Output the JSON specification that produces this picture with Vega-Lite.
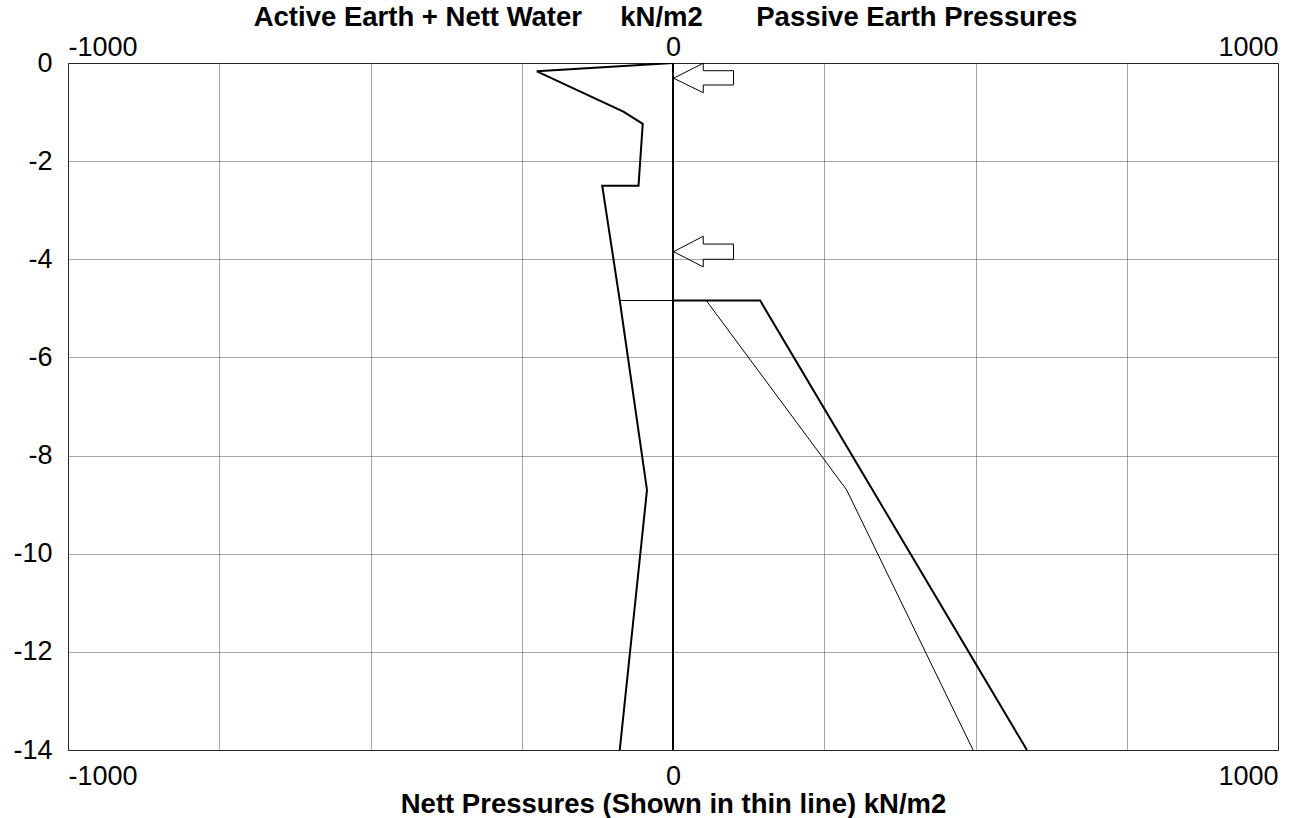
{
  "$schema": "https://vega.github.io/schema/vega-lite/v6.json",
  "autosize": {"type": "none"},
  "padding": {"left": 68, "top": 63, "right": 14, "bottom": 68},
  "width": 1210,
  "height": 687,
  "background": "white",
  "config": {
    "view": {"stroke": "#000000", "strokeWidth": 1},
    "font": "Liberation Sans",
    "axis": {
      "domain": false,
      "ticks": false,
      "tickSize": 0,
      "labelFont": "Liberation Sans",
      "labelFontSize": 27,
      "labelColor": "#000000",
      "titleFont": "Liberation Sans",
      "titleFontSize": 27.5,
      "titleFontWeight": "bold",
      "titleColor": "#000000",
      "gridColor": "#4a4a4a",
      "gridDash": [1, 1],
      "gridWidth": 1,
      "gridOpacity": 1
    }
  },
  "datasets": {
    "thick": [
      {"series": "active", "o": 1, "v": 0, "d": 0},
      {"series": "active", "o": 2, "v": -225, "d": -0.17},
      {"series": "active", "o": 3, "v": -82, "d": -0.99},
      {"series": "active", "o": 4, "v": -50, "d": -1.24},
      {"series": "active", "o": 5, "v": -57, "d": -2.5},
      {"series": "active", "o": 6, "v": -117, "d": -2.5},
      {"series": "active", "o": 7, "v": -88, "d": -4.84},
      {"series": "active", "o": 8, "v": -43, "d": -8.7},
      {"series": "active", "o": 9, "v": -88, "d": -14},
      {"series": "zero", "o": 1, "v": 0, "d": 0},
      {"series": "zero", "o": 2, "v": 0, "d": -14},
      {"series": "passive", "o": 1, "v": 0, "d": -4.84},
      {"series": "passive", "o": 2, "v": 144, "d": -4.84},
      {"series": "passive", "o": 3, "v": 585, "d": -14}
    ],
    "nett": [
      {"o": 1, "v": -88, "d": -4.84},
      {"o": 2, "v": 55, "d": -4.84},
      {"o": 3, "v": 287, "d": -8.7},
      {"o": 4, "v": 496, "d": -14}
    ],
    "arrows": [
      {"arrow": "a1", "o": 1, "v": 1, "d": -0.31},
      {"arrow": "a1", "o": 2, "v": 50, "d": -0.005},
      {"arrow": "a1", "o": 3, "v": 50, "d": -0.157},
      {"arrow": "a1", "o": 4, "v": 100, "d": -0.157},
      {"arrow": "a1", "o": 5, "v": 100, "d": -0.448},
      {"arrow": "a1", "o": 6, "v": 50, "d": -0.448},
      {"arrow": "a1", "o": 7, "v": 50, "d": -0.605},
      {"arrow": "a1", "o": 8, "v": 1, "d": -0.31},
      {"arrow": "a2", "o": 1, "v": 1, "d": -3.845},
      {"arrow": "a2", "o": 2, "v": 50, "d": -3.53},
      {"arrow": "a2", "o": 3, "v": 50, "d": -3.69},
      {"arrow": "a2", "o": 4, "v": 100, "d": -3.69},
      {"arrow": "a2", "o": 5, "v": 100, "d": -4.0},
      {"arrow": "a2", "o": 6, "v": 50, "d": -4.0},
      {"arrow": "a2", "o": 7, "v": 50, "d": -4.155},
      {"arrow": "a2", "o": 8, "v": 1, "d": -3.845}
    ]
  },
  "layer": [
    {
      "data": {"name": "thick"},
      "mark": {"type": "line", "color": "#000000", "strokeWidth": 2, "clip": true},
      "encoding": {
        "x": {
          "field": "v", "type": "quantitative",
          "scale": {"domain": [-1000, 1000], "nice": false, "zero": false},
          "axis": {
            "orient": "bottom",
            "values": [-1000, -750, -500, -250, 0, 250, 500, 750, 1000],
            "labelExpr": "datum.value % 1000 == 0 ? toString(datum.value) : ''",
            "labelFlush": true,
            "labelPadding": 13,
            "grid": true,
            "title": "Nett Pressures (Shown in thin line) kN/m2",
            "titlePadding": 1
          }
        },
        "y": {
          "field": "d", "type": "quantitative",
          "scale": {"domain": [-14, 0], "nice": false, "zero": false},
          "axis": {
            "values": [-14, -12, -10, -8, -6, -4, -2, 0],
            "labelExpr": "toString(datum.value)",
            "labelPadding": 16,
            "grid": true,
            "title": null
          }
        },
        "detail": {"field": "series"},
        "order": {"field": "o"}
      }
    },
    {
      "data": {"name": "nett"},
      "mark": {"type": "line", "color": "#000000", "strokeWidth": 1, "clip": true},
      "encoding": {
        "x": {
          "field": "v", "type": "quantitative",
          "scale": {"domain": [-1000, 1000], "nice": false, "zero": false},
          "axis": {
            "orient": "top",
            "values": [-1000, 0, 1000],
            "labelExpr": "toString(datum.value)",
            "labelFlush": true,
            "labelPadding": 2,
            "grid": false,
            "title": "Active Earth + Nett Water\u00a0\u00a0\u00a0\u00a0\u00a0kN/m2\u00a0\u00a0\u00a0\u00a0\u00a0\u00a0\u00a0Passive Earth Pressures",
            "titlePadding": 2,
            "titleX": 597
          }
        },
        "y": {
          "field": "d", "type": "quantitative",
          "scale": {"domain": [-14, 0], "nice": false, "zero": false},
          "axis": {
            "values": [-14, -12, -10, -8, -6, -4, -2, 0],
            "labelExpr": "toString(datum.value)",
            "labelPadding": 16,
            "grid": true,
            "title": null
          }
        },
        "order": {"field": "o"}
      }
    },
    {
      "data": {"name": "arrows"},
      "mark": {"type": "line", "color": "#000000", "strokeWidth": 1, "clip": false},
      "encoding": {
        "x": {
          "field": "v", "type": "quantitative",
          "scale": {"domain": [-1000, 1000], "nice": false, "zero": false},
          "axis": null
        },
        "y": {
          "field": "d", "type": "quantitative",
          "scale": {"domain": [-14, 0], "nice": false, "zero": false},
          "axis": {
            "values": [-14, -12, -10, -8, -6, -4, -2, 0],
            "labelExpr": "toString(datum.value)",
            "labelPadding": 16,
            "grid": true,
            "title": null
          }
        },
        "detail": {"field": "arrow"},
        "order": {"field": "o"}
      }
    }
  ],
  "resolve": {"axis": {"x": "independent"}}
}
